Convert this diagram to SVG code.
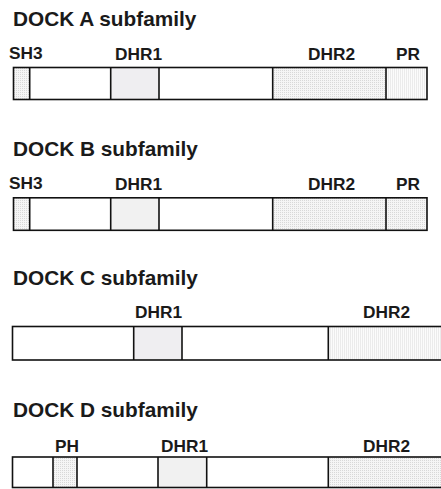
<svg xmlns="http://www.w3.org/2000/svg" width="441" height="489" viewBox="0 0 441 489">
<defs>
<pattern id="dots" width="2" height="2" patternUnits="userSpaceOnUse"><rect width="2" height="2" fill="#f5f5f5"/><rect width="1" height="1" fill="#d8d8d8"/></pattern>
<pattern id="vlines" width="2" height="2" patternUnits="userSpaceOnUse"><rect width="2" height="2" fill="#fbfbfb"/><rect width="1" height="2" fill="#ebebeb"/></pattern>
<style>
.title{font-family:"Liberation Sans",Arial,sans-serif;font-weight:bold;font-size:20.8px;fill:#1a1a1a}
.lbl{font-family:"Liberation Sans",Arial,sans-serif;font-weight:bold;font-size:17.3px;fill:#1a1a1a}
.out{fill:none;stroke:#111;stroke-width:1.6}
.div{stroke:#111;stroke-width:1.6}
.dhr1{fill:#efeef1}
</style>
</defs>

<g id="dockA">
<text class="title" x="13" y="25.5">DOCK A subfamily</text>
<text class="lbl" x="9" y="58.5">SH3</text>
<text class="lbl" x="115" y="60">DHR1</text>
<text class="lbl" x="308" y="60">DHR2</text>
<text class="lbl" x="396" y="60">PR</text>
<rect x="13.5" y="67.5" width="16.2" height="32" fill="url(#dots)"/>
<rect x="110.7" y="67.5" width="48.3" height="32" class="dhr1"/>
<rect x="272.7" y="67.5" width="113.3" height="32" fill="url(#dots)"/>
<rect x="386" y="67.5" width="41" height="32" fill="url(#vlines)"/>
<rect x="13.5" y="67.5" width="413.5" height="32" class="out"/>
<line class="div" x1="29.7" y1="67.5" x2="29.7" y2="99.5"/>
<line class="div" x1="110.7" y1="67.5" x2="110.7" y2="99.5"/>
<line class="div" x1="159" y1="67.5" x2="159" y2="99.5"/>
<line class="div" x1="272.7" y1="67.5" x2="272.7" y2="99.5"/>
<line class="div" x1="386" y1="67.5" x2="386" y2="99.5"/>
</g>

<g id="dockB">
<text class="title" x="13" y="155.5">DOCK B subfamily</text>
<text class="lbl" x="9" y="188.5">SH3</text>
<text class="lbl" x="115" y="190">DHR1</text>
<text class="lbl" x="308" y="190">DHR2</text>
<text class="lbl" x="396" y="190">PR</text>
<rect x="13.5" y="197.8" width="16.2" height="32.5" fill="url(#dots)"/>
<rect x="110.7" y="197.8" width="48.3" height="32.5" fill="#f1f1f1"/>
<rect x="272.7" y="197.8" width="113.3" height="32.5" fill="url(#dots)"/>
<rect x="386" y="197.8" width="41" height="32.5" fill="url(#dots)"/>
<rect x="13.5" y="197.8" width="413.5" height="32.5" class="out"/>
<line class="div" x1="29.7" y1="197.8" x2="29.7" y2="230.3"/>
<line class="div" x1="110.7" y1="197.8" x2="110.7" y2="230.3"/>
<line class="div" x1="159" y1="197.8" x2="159" y2="230.3"/>
<line class="div" x1="272.7" y1="197.8" x2="272.7" y2="230.3"/>
<line class="div" x1="386" y1="197.8" x2="386" y2="230.3"/>
</g>

<g id="dockC">
<text class="title" x="13" y="285">DOCK C subfamily</text>
<text class="lbl" x="135" y="318">DHR1</text>
<text class="lbl" x="363" y="318">DHR2</text>
<rect x="133.7" y="326.5" width="48.3" height="33.5" class="dhr1"/>
<rect x="328.3" y="326.5" width="114" height="33.5" fill="url(#vlines)"/>
<rect x="12.5" y="326.5" width="430" height="33.5" class="out"/>
<line class="div" x1="133.7" y1="326.5" x2="133.7" y2="360"/>
<line class="div" x1="182" y1="326.5" x2="182" y2="360"/>
<line class="div" x1="328.3" y1="326.5" x2="328.3" y2="360"/>
</g>

<g id="dockD">
<text class="title" x="13" y="416.5">DOCK D subfamily</text>
<text class="lbl" x="55" y="451.5">PH</text>
<text class="lbl" x="161" y="451.5">DHR1</text>
<text class="lbl" x="363" y="451.5">DHR2</text>
<rect x="53" y="457" width="24" height="30.5" fill="url(#dots)"/>
<rect x="158" y="457" width="48.7" height="30.5" fill="#f1f1f1"/>
<rect x="328.3" y="457" width="114" height="30.5" fill="url(#dots)"/>
<rect x="12.5" y="457" width="430" height="30.5" class="out"/>
<line class="div" x1="53" y1="457" x2="53" y2="487.5"/>
<line class="div" x1="77" y1="457" x2="77" y2="487.5"/>
<line class="div" x1="158" y1="457" x2="158" y2="487.5"/>
<line class="div" x1="206.7" y1="457" x2="206.7" y2="487.5"/>
<line class="div" x1="328.3" y1="457" x2="328.3" y2="487.5"/>
</g>
</svg>
